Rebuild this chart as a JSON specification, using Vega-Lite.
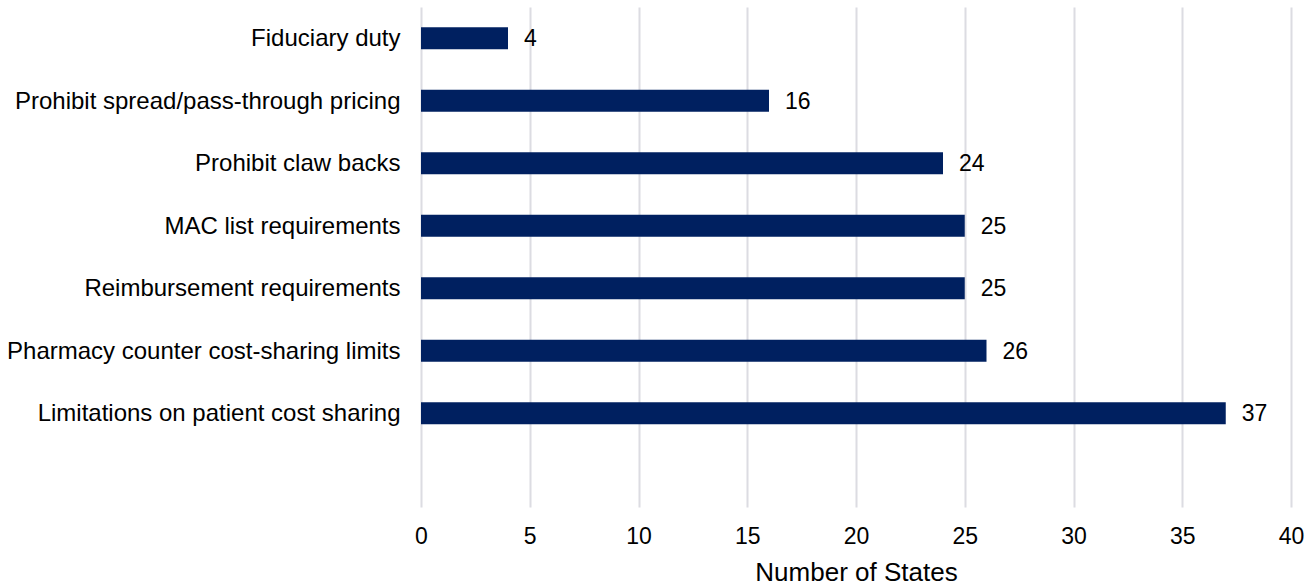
{
  "$schema": "https://vega.github.io/schema/vega-lite/v6.json",
  "autosize": "none",
  "width": 870,
  "height": 500,
  "padding": {"left": 421, "top": 7, "right": 24, "bottom": 79},
  "background": "white",
  "config": {
    "view": {"stroke": null},
    "font": "Liberation Sans",
    "axis": {"labelFont": "Liberation Sans", "titleFont": "Liberation Sans"}
  },
  "data": {
    "values": [
      {"category": "Fiduciary duty", "states": 4},
      {"category": "Prohibit spread/pass-through pricing", "states": 16},
      {"category": "Prohibit claw backs", "states": 24},
      {"category": "MAC list requirements", "states": 25},
      {"category": "Reimbursement requirements", "states": 25},
      {"category": "Pharmacy counter cost-sharing limits", "states": 26},
      {"category": "Limitations on patient cost sharing", "states": 37}
    ]
  },
  "encoding": {
    "y": {
      "field": "category",
      "type": "nominal",
      "scale": {
        "domain": ["Fiduciary duty", "Prohibit spread/pass-through pricing", "Prohibit claw backs", "MAC list requirements", "Reimbursement requirements", "Pharmacy counter cost-sharing limits", "Limitations on patient cost sharing", " "],
        "paddingInner": 0,
        "paddingOuter": 0
      },
      "axis": {
        "title": null,
        "domain": false,
        "ticks": false,
        "tickSize": 0,
        "labelPadding": 21,
        "labelOffset": 1,
        "labelFontSize": 24,
        "labelColor": "#000000",
        "labelLimit": 0
      }
    },
    "x": {
      "field": "states",
      "type": "quantitative",
      "scale": {"domain": [0, 40], "nice": false},
      "axis": {
        "title": "Number of States",
        "values": [0, 5, 10, 15, 20, 25, 30, 35, 40],
        "domain": false,
        "ticks": false,
        "tickSize": 0,
        "grid": true,
        "gridColor": "#dcdce2",
        "gridWidth": 2,
        "labelFlush": false,
        "labelPadding": 18,
        "labelFontSize": 23,
        "labelColor": "#000000",
        "titleFontSize": 26,
        "titleFontWeight": "normal",
        "titleColor": "#000000",
        "titlePadding": 11
      }
    }
  },
  "layer": [
    {"mark": {"type": "bar", "color": "#002060", "size": 22}},
    {
      "mark": {"type": "text", "align": "left", "baseline": "middle", "dx": 16, "dy": 1, "fontSize": 23, "color": "#000000"},
      "encoding": {"text": {"field": "states", "type": "quantitative"}}
    }
  ]
}
